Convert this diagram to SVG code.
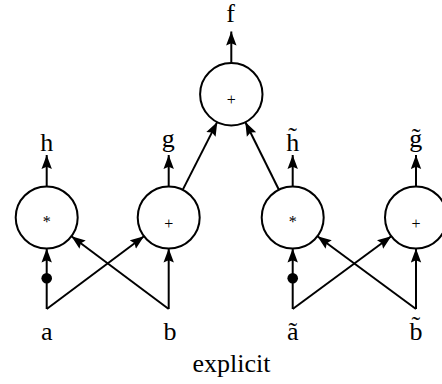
<svg xmlns="http://www.w3.org/2000/svg" width="442" height="384" viewBox="0 0 442 384">
  <style>
    .node { fill: #fff; stroke: #000; stroke-width: 2; }
    .op { font-family: "Liberation Serif", "Times New Roman", serif; font-size: 16px; text-anchor: middle; fill: #000; }
    .lbl { font-family: "Liberation Serif", "Times New Roman", serif; font-size: 26px; text-anchor: middle; fill: #000; }
    .edge { fill: none; stroke: #000; stroke-width: 2; marker-end: url(#arrow); }
  </style>
  <defs>
    <marker id="arrow" markerUnits="userSpaceOnUse" markerWidth="16" markerHeight="12" refX="14" refY="5.5" orient="auto">
      <path d="M14,5.5 L0,0.3 L2.2,5.5 L0,10.7 Z" fill="#000"/>
    </marker>
  </defs>

  <!-- connectors -->
  <g id="connectors">
    <!-- outputs -->
    <line class="edge" x1="231.3" y1="63" x2="231.3" y2="31.5"/>
    <line class="edge" x1="46.7" y1="186.5" x2="46.7" y2="155"/>
    <line class="edge" x1="168.7" y1="186.5" x2="168.7" y2="155"/>
    <line class="edge" x1="292.7" y1="186.5" x2="292.7" y2="155"/>
    <line class="edge" x1="416" y1="186.5" x2="416" y2="155"/>
    <!-- into the top node -->
    <line class="edge" x1="182.7" y1="189.9" x2="217.3" y2="121.9"/>
    <line class="edge" x1="278.9" y1="189.8" x2="245.3" y2="122"/>
    <!-- left input pair -->
    <line class="edge" x1="46.7" y1="309" x2="46.7" y2="248.5"/>
    <circle cx="46.7" cy="278.3" r="5.3" fill="#000"/>
    <line class="edge" x1="46.7" y1="309" x2="144" y2="236.2"/>
    <line class="edge" x1="168.7" y1="309" x2="168.7" y2="248.5"/>
    <line class="edge" x1="168.7" y1="309" x2="71.4" y2="236.2"/>
    <!-- right input pair -->
    <line class="edge" x1="292.7" y1="309" x2="292.7" y2="248.5"/>
    <circle cx="292.7" cy="278.3" r="5.3" fill="#000"/>
    <line class="edge" x1="292.7" y1="309" x2="391.3" y2="236.2"/>
    <line class="edge" x1="416" y1="309" x2="416" y2="248.5"/>
    <line class="edge" x1="416" y1="309" x2="317.4" y2="236.2"/>
  </g>

  <!-- operation nodes -->
  <g id="sum_top">
    <circle class="node" cx="231.3" cy="94.3" r="31.2"/>
    <text class="op" x="231.3" y="105.4">+</text>
  </g>
  <g id="mul_left">
    <circle class="node" cx="46.7" cy="217.5" r="31"/>
    <text class="op" x="46.7" y="227.3">*</text>
  </g>
  <g id="sum_left">
    <circle class="node" cx="168.7" cy="217.5" r="31"/>
    <text class="op" x="168.7" y="228.6">+</text>
  </g>
  <g id="mul_right">
    <circle class="node" cx="292.7" cy="217.5" r="31"/>
    <text class="op" x="292.7" y="227.3">*</text>
  </g>
  <g id="sum_right">
    <circle class="node" cx="416" cy="217.5" r="31"/>
    <text class="op" x="416" y="228.6">+</text>
  </g>

  <!-- output labels -->
  <g id="out_f"><text class="lbl" x="230.7" y="21.7">f</text></g>
  <g id="out_h"><text class="lbl" x="46.7" y="151">h</text></g>
  <g id="out_g"><text class="lbl" x="168.3" y="147">g</text></g>
  <g id="out_ht"><text class="lbl" x="292.7" y="151">h̃</text></g>
  <g id="out_gt"><text class="lbl" x="415.7" y="147">g̃</text></g>

  <!-- input labels -->
  <g id="in_a"><text class="lbl" x="46.7" y="340">a</text></g>
  <g id="in_b"><text class="lbl" x="170" y="340">b</text></g>
  <g id="in_at"><text class="lbl" x="292.7" y="340">ã</text></g>
  <g id="in_bt"><text class="lbl" x="416" y="340">b̃</text></g>

  <text class="lbl" x="231.5" y="372">explicit</text>
</svg>
